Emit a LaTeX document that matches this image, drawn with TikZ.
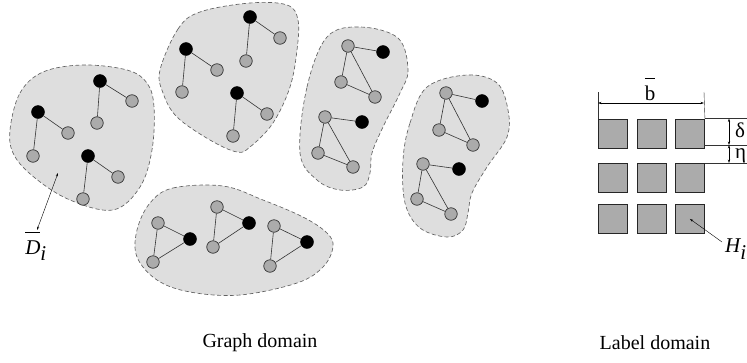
\documentclass[tikz,border=0pt]{standalone}
\usepackage{fontspec}
\setmainfont{Liberation Serif}
\usetikzlibrary{arrows.meta}
\begin{document}
\begin{tikzpicture}[x=1pt,y=-1pt,
  blob/.style={draw=black!62, dash pattern=on 4pt off 2.5pt, fill=black!13, line width=0.65pt},
  gn/.style={circle, draw=black!80, fill=black!33, minimum size=12.5pt, inner sep=0pt, line width=0.7pt},
  bn/.style={circle, draw=black, fill=black, minimum size=13pt, inner sep=0pt},
  edge/.style={draw=black!80, line width=0.6pt},
  sq/.style={draw=black!85, fill=black!33, line width=0.9pt, minimum size=29pt, inner sep=0pt, anchor=north west},
  thin line/.style={line width=0.4pt, draw=black!80},
  dimarr/.style={line width=0.4pt, {Stealth[length=3.5pt,width=2.2pt]}-{Stealth[length=3.5pt,width=2.2pt]}},
  lbl/.style={font=\fontsize{20}{24}\selectfont, inner sep=0pt},
  mlbl/.style={font=\fontsize{21}{24}\selectfont, inner sep=0pt}
]
\useasboundingbox (0,0) rectangle (747,362);

% ---------- blobs ----------
\path[blob] plot[smooth cycle, tension=0.6] coordinates {(10,130) (20,93) (43,72) (83,65) (127,70) (147,83) (154,107) (152,150) (140,187) (113,210) (70,200) (35,178) (14,155)};
\path[blob] plot[smooth cycle, tension=0.6] coordinates {(160,70) (178,29) (200,12) (250,3) (287,5) (298,20) (297,50) (290,87) (273,123) (250,147) (237,152) (210,140) (177,117) (163,93)};
\path[blob] plot[smooth cycle, tension=0.6] coordinates {(300,153) (307,87) (327,37) (360,27) (398,38) (408,70) (400,93) (383,127) (372,153) (370,173) (363,187) (340,190) (317,180)};
\path[blob] plot[smooth cycle, tension=0.6] coordinates {(403,160) (410,123) (427,87) (467,75) (497,83) (508,110) (507,137) (487,167) (472,193) (468,213) (463,230) (447,237) (420,228) (405,203)};
\path[blob] plot[smooth cycle, tension=0.6] coordinates {(150,203) (173,188) (223,186) (263,200) (303,217) (327,233) (333,247) (323,267) (297,283) (240,295) (190,292) (157,280) (137,257) (137,230)};

% ---------- blob 1 ----------
\node[bn] (a1) at (100,81) {}; \node[gn] (a2) at (132,101) {}; \node[gn] (a3) at (97,123) {};
\node[bn] (b1) at (38,112) {};  \node[gn] (b2) at (68,133) {};  \node[gn] (b3) at (33,156) {};
\node[bn] (c1) at (88,156) {};  \node[gn] (c2) at (118,177) {}; \node[gn] (c3) at (83,199) {};
\draw[edge] (a1)--(a2) (a1)--(a3) (b1)--(b2) (b1)--(b3) (c1)--(c2) (c1)--(c3);

% ---------- blob 2 ----------
\node[bn] (d1) at (250,17) {};  \node[gn] (d2) at (280,38) {};  \node[gn] (d3) at (246,61) {};
\node[bn] (e1) at (186,49) {};  \node[gn] (e2) at (217,70) {};  \node[gn] (e3) at (182,92) {};
\node[bn] (f1) at (237,93) {};  \node[gn] (f2) at (267,114) {}; \node[gn] (f3) at (233,136) {};
\draw[edge] (d1)--(d2) (d1)--(d3) (e1)--(e2) (e1)--(e3) (f1)--(f2) (f1)--(f3);

% ---------- blob 3 ----------
\node[gn] (g1) at (348,46) {}; \node[bn] (g0) at (383,52) {}; \node[gn] (g2) at (341,82) {}; \node[gn] (g3) at (375,97) {};
\node[gn] (h1) at (325,117) {}; \node[bn] (h0) at (362,122) {}; \node[gn] (h2) at (318,153) {}; \node[gn] (h3) at (353,167) {};
\draw[edge] (g1)--(g0) (g1)--(g2) (g1)--(g3) (g2)--(g3);
\draw[edge] (h1)--(h0) (h1)--(h2) (h1)--(h3) (h2)--(h3);

% ---------- blob 4 ----------
\node[gn] (i1) at (446,93) {}; \node[bn] (i0) at (482,101) {}; \node[gn] (i2) at (439,130) {}; \node[gn] (i3) at (473,145) {};
\node[gn] (j1) at (423,164) {}; \node[bn] (j0) at (459,169) {}; \node[gn] (j2) at (417,199) {}; \node[gn] (j3) at (451,214) {};
\draw[edge] (i1)--(i0) (i1)--(i2) (i1)--(i3) (i2)--(i3);
\draw[edge] (j1)--(j0) (j1)--(j2) (j1)--(j3) (j2)--(j3);

% ---------- blob 5 ----------
\node[gn] (k1) at (158,223) {}; \node[bn] (k0) at (190,239) {}; \node[gn] (k2) at (153,262) {};
\node[gn] (l1) at (217,207) {}; \node[bn] (l0) at (249,223) {}; \node[gn] (l2) at (213,247) {};
\node[gn] (m1) at (274,226) {}; \node[bn] (m0) at (307,242) {}; \node[gn] (m2) at (270,266) {};
\draw[edge] (k1)--(k0) (k1)--(k2) (k2)--(k0);
\draw[edge] (l1)--(l0) (l1)--(l2) (l2)--(l0);
\draw[edge] (m1)--(m0) (m1)--(m2) (m2)--(m0);

% ---------- D_i ----------
\coordinate (dtop) at (58,173);
\coordinate (dbot) at (37,230);
\draw[dimarr] (dtop) -- (dbot);
\node[mlbl] (Dlab) at (36,246) {$\overline{\rule{0pt}{1.0em}\textit{D}}_{\textit{i}}$};

% ---------- label domain ----------
\foreach \c/\x in {1/598,2/637,3/675}{
  \foreach \r/\y in {1/118.5,2/163,3/204}{
    \node[sq] (s\r\c) at (\x,\y) {};
  }
}
% b dimension
\coordinate (bl) at (598,92);
\coordinate (br) at (704,92);
\draw[thin line] (s11.north west) -- (bl);
\draw[thin line] (s13.north east) -- (br);
\coordinate (bla) at (598,103);
\coordinate (bra) at (704,103);
\draw[dimarr] (bla) -- (bra);
\node[mlbl] (blab) at (650,89) {$\overline{\rule{0pt}{1.0em}\mbox{b}}$};

% delta / eta
\coordinate (e1r) at (748,118.5);
\coordinate (e2l) at (704,145);
\coordinate (e2r) at (748,145);
\coordinate (e3r) at (748,163);
\draw[thin line] (s13.north east) -- (e1r);
\draw[thin line] (e2l) -- (e2r);
\draw[thin line] (s23.north east) -- (e3r);
\coordinate (v1) at (729,118.5);
\coordinate (v2) at (729,145);
\coordinate (v3) at (729,163);
\draw[dimarr] (v1) -- (v2);
\draw[dimarr] (v2) -- (v3);
\node[mlbl, anchor=west] (dl) at (735,130) {δ};
\node[mlbl, anchor=west] (el) at (735,156) {η};

% H_i
\coordinate (hstart) at (722,242);
\draw[line width=0.4pt, -{Stealth[length=3.5pt,width=2.2pt]}] (hstart) -- (s33.center);
\node[mlbl, anchor=west] (Hlab) at (725,249) {$\textit{H}_{\textit{i}}$};

% ---------- captions ----------
\node[lbl] (gd) at (260,343) {Graph domain};
\node[lbl] (ld) at (655,343) {Label domain};
\end{tikzpicture}
\end{document}
